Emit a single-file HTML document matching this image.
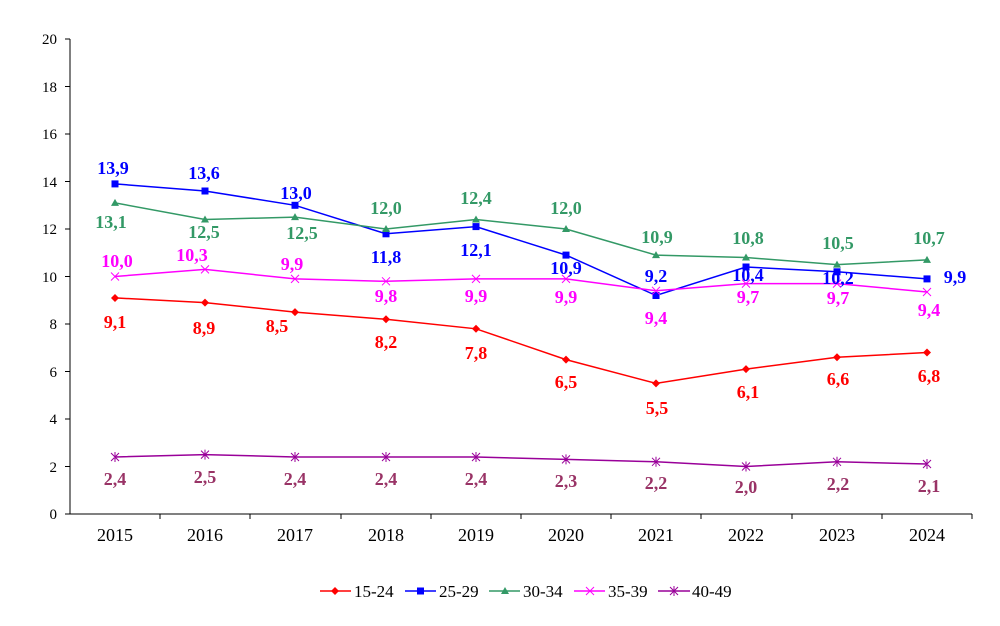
<!DOCTYPE html>
<html><head><style>body{margin:0;background:#fff}svg text{font-family:"Liberation Serif",serif}</style></head><body>
<svg width="1000" height="621" xmlns="http://www.w3.org/2000/svg">
<g stroke="#000" stroke-width="1" fill="none">
<line x1="70" y1="39" x2="70" y2="514"/><line x1="70" y1="514" x2="972" y2="514"/>
</g>
<g font-size="15" text-anchor="end" fill="#000">
<text x="57" y="519">0</text><text x="57" y="472">2</text><text x="57" y="424">4</text><text x="57" y="377">6</text><text x="57" y="329">8</text><text x="57" y="282">10</text><text x="57" y="234">12</text><text x="57" y="187">14</text><text x="57" y="139">16</text><text x="57" y="92">18</text><text x="57" y="44">20</text>
</g>
<g stroke="#000"><line x1="65" y1="514" x2="70" y2="514"/><line x1="65" y1="466.5" x2="70" y2="466.5"/><line x1="65" y1="419" x2="70" y2="419"/><line x1="65" y1="371.5" x2="70" y2="371.5"/><line x1="65" y1="324" x2="70" y2="324"/><line x1="65" y1="276.5" x2="70" y2="276.5"/><line x1="65" y1="229" x2="70" y2="229"/><line x1="65" y1="181.5" x2="70" y2="181.5"/><line x1="65" y1="134" x2="70" y2="134"/><line x1="65" y1="86.5" x2="70" y2="86.5"/><line x1="65" y1="39" x2="70" y2="39"/>
<line x1="160" y1="514" x2="160" y2="519"/><line x1="250" y1="514" x2="250" y2="519"/><line x1="341" y1="514" x2="341" y2="519"/><line x1="431" y1="514" x2="431" y2="519"/><line x1="521" y1="514" x2="521" y2="519"/><line x1="611" y1="514" x2="611" y2="519"/><line x1="701" y1="514" x2="701" y2="519"/><line x1="792" y1="514" x2="792" y2="519"/><line x1="882" y1="514" x2="882" y2="519"/><line x1="972" y1="514" x2="972" y2="519"/></g>
<g font-size="18" text-anchor="middle" fill="#000">
<text x="115" y="541">2015</text><text x="205" y="541">2016</text><text x="295" y="541">2017</text><text x="386" y="541">2018</text><text x="476" y="541">2019</text><text x="566" y="541">2020</text><text x="656" y="541">2021</text><text x="746" y="541">2022</text><text x="837" y="541">2023</text><text x="927" y="541">2024</text>
</g>
<polyline fill="none" stroke="#ff0000" stroke-width="1.5" points="115,297.9 205,302.6 295,312.1 386,319.3 476,328.8 566,359.6 656,383.4 746,369.1 837,357.3 927,352.5"/>
<polyline fill="none" stroke="#0000ff" stroke-width="1.5" points="115,183.9 205,191 295,205.3 386,233.8 476,226.6 566,255.1 656,295.5 746,267 837,271.8 927,278.9"/>
<polyline fill="none" stroke="#339966" stroke-width="1.5" points="115,202.9 205,219.5 295,217.1 386,229 476,219.5 566,229 656,255.1 746,257.5 837,264.6 927,259.9"/>
<polyline fill="none" stroke="#ff00ff" stroke-width="1.5" points="115,276.5 205,269.4 295,278.9 386,281.3 476,278.9 566,278.9 656,290.8 746,283.6 837,283.6 927,292"/>
<polyline fill="none" stroke="#990099" stroke-width="1.5" points="115,457 205,454.6 295,457 386,457 476,457 566,459.4 656,461.8 746,466.5 837,461.8 927,464"/>
<g fill="#ff0000"><path d="M115,294l4,4-4,4-4-4z"/><path d="M205,298.6l4,4-4,4-4-4z"/><path d="M295,308.1l4,4-4,4-4-4z"/><path d="M386,315.3l4,4-4,4-4-4z"/><path d="M476,324.8l4,4-4,4-4-4z"/><path d="M566,355.6l4,4-4,4-4-4z"/><path d="M656,379.4l4,4-4,4-4-4z"/><path d="M746,365.1l4,4-4,4-4-4z"/><path d="M837,353.3l4,4-4,4-4-4z"/><path d="M927,348.5l4,4-4,4-4-4z"/></g>
<g fill="#0000ff"><rect x="111.5" y="180.4" width="7" height="7"/><rect x="201.5" y="187.5" width="7" height="7"/><rect x="291.5" y="201.8" width="7" height="7"/><rect x="382.5" y="230.3" width="7" height="7"/><rect x="472.5" y="223.1" width="7" height="7"/><rect x="562.5" y="251.6" width="7" height="7"/><rect x="652.5" y="292" width="7" height="7"/><rect x="742.5" y="263.5" width="7" height="7"/><rect x="833.5" y="268.3" width="7" height="7"/><rect x="923.5" y="275.4" width="7" height="7"/></g>
<g fill="#339966"><path d="M115,198.9l4,7h-8z"/><path d="M205,215.5l4,7h-8z"/><path d="M295,213.1l4,7h-8z"/><path d="M386,225l4,7h-8z"/><path d="M476,215.5l4,7h-8z"/><path d="M566,225l4,7h-8z"/><path d="M656,251.1l4,7h-8z"/><path d="M746,253.5l4,7h-8z"/><path d="M837,260.6l4,7h-8z"/><path d="M927,255.9l4,7h-8z"/></g>
<g stroke="#ff00ff" stroke-width="1"><path d="M111,272.5l8,8m0-8l-8,8M201,265.4l8,8m0-8l-8,8M291,274.9l8,8m0-8l-8,8M382,277.3l8,8m0-8l-8,8M472,274.9l8,8m0-8l-8,8M562,274.9l8,8m0-8l-8,8M652,286.8l8,8m0-8l-8,8M742,279.6l8,8m0-8l-8,8M833,279.6l8,8m0-8l-8,8M923,288l8,8m0-8l-8,8"/></g>
<g stroke="#990099" stroke-width="1"><path d="M111,453l8,8m0-8l-8,8m4-9v10M201,450.6l8,8m0-8l-8,8m4-9v10M291,453l8,8m0-8l-8,8m4-9v10M382,453l8,8m0-8l-8,8m4-9v10M472,453l8,8m0-8l-8,8m4-9v10M562,455.4l8,8m0-8l-8,8m4-9v10M652,457.8l8,8m0-8l-8,8m4-9v10M742,462.5l8,8m0-8l-8,8m4-9v10M833,457.8l8,8m0-8l-8,8m4-9v10M923,460l8,8m0-8l-8,8m4-9v10"/></g>
<g font-size="18" font-weight="bold" text-anchor="middle" dominant-baseline="central">
<g fill="#0000ff"><text x="113" y="168">13,9</text><text x="204" y="173">13,6</text><text x="296" y="193">13,0</text><text x="386" y="257">11,8</text><text x="476" y="250">12,1</text><text x="566" y="268">10,9</text><text x="656" y="276">9,2</text><text x="748" y="275">10,4</text><text x="838" y="278">10,2</text><text x="955" y="277">9,9</text></g>
<g fill="#339966"><text x="111" y="222">13,1</text><text x="204" y="232">12,5</text><text x="302" y="233">12,5</text><text x="386" y="208">12,0</text><text x="476" y="198">12,4</text><text x="566" y="208">12,0</text><text x="657" y="237">10,9</text><text x="748" y="238">10,8</text><text x="838" y="243">10,5</text><text x="929" y="238">10,7</text></g>
<g fill="#ff00ff"><text x="117" y="261">10,0</text><text x="192" y="255">10,3</text><text x="292" y="264">9,9</text><text x="386" y="296">9,8</text><text x="476" y="296">9,9</text><text x="566" y="297">9,9</text><text x="656" y="318">9,4</text><text x="748" y="297">9,7</text><text x="838" y="298">9,7</text><text x="929" y="310">9,4</text></g>
<g fill="#ff0000"><text x="115" y="322">9,1</text><text x="204" y="328">8,9</text><text x="277" y="326">8,5</text><text x="386" y="342">8,2</text><text x="476" y="353">7,8</text><text x="566" y="382">6,5</text><text x="657" y="408">5,5</text><text x="748" y="392">6,1</text><text x="838" y="379">6,6</text><text x="929" y="376">6,8</text></g>
<g fill="#993366"><text x="115" y="479">2,4</text><text x="205" y="477">2,5</text><text x="295" y="479">2,4</text><text x="386" y="479">2,4</text><text x="476" y="479">2,4</text><text x="566" y="481">2,3</text><text x="656" y="483">2,2</text><text x="746" y="487">2,0</text><text x="838" y="484">2,2</text><text x="929" y="486">2,1</text></g>
</g>
<g font-size="17" fill="#000">
<line x1="320" y1="591" x2="351" y2="591" stroke="#ff0000" stroke-width="1.5"/><path d="M335,587l4,4-4,4-4-4z" fill="#ff0000"/><text x="354" y="597">15-24</text>
<line x1="405" y1="591" x2="436" y2="591" stroke="#0000ff" stroke-width="1.5"/><rect x="417" y="587.5" width="7" height="7" fill="#0000ff"/><text x="439" y="597">25-29</text>
<line x1="489" y1="591" x2="520" y2="591" stroke="#339966" stroke-width="1.5"/><path d="M505,587l4,7h-8z" fill="#339966"/><text x="523" y="597">30-34</text>
<line x1="574" y1="591" x2="605" y2="591" stroke="#ff00ff" stroke-width="1.5"/><path d="M586,587l8,8m0-8l-8,8" stroke="#ff00ff"/><text x="608" y="597">35-39</text>
<line x1="658" y1="591" x2="690" y2="591" stroke="#990099" stroke-width="1.5"/><path d="M670,587l8,8m0-8l-8,8m4-9v10" stroke="#990099"/><text x="692" y="597">40-49</text>
</g>
</svg>
</body></html>
